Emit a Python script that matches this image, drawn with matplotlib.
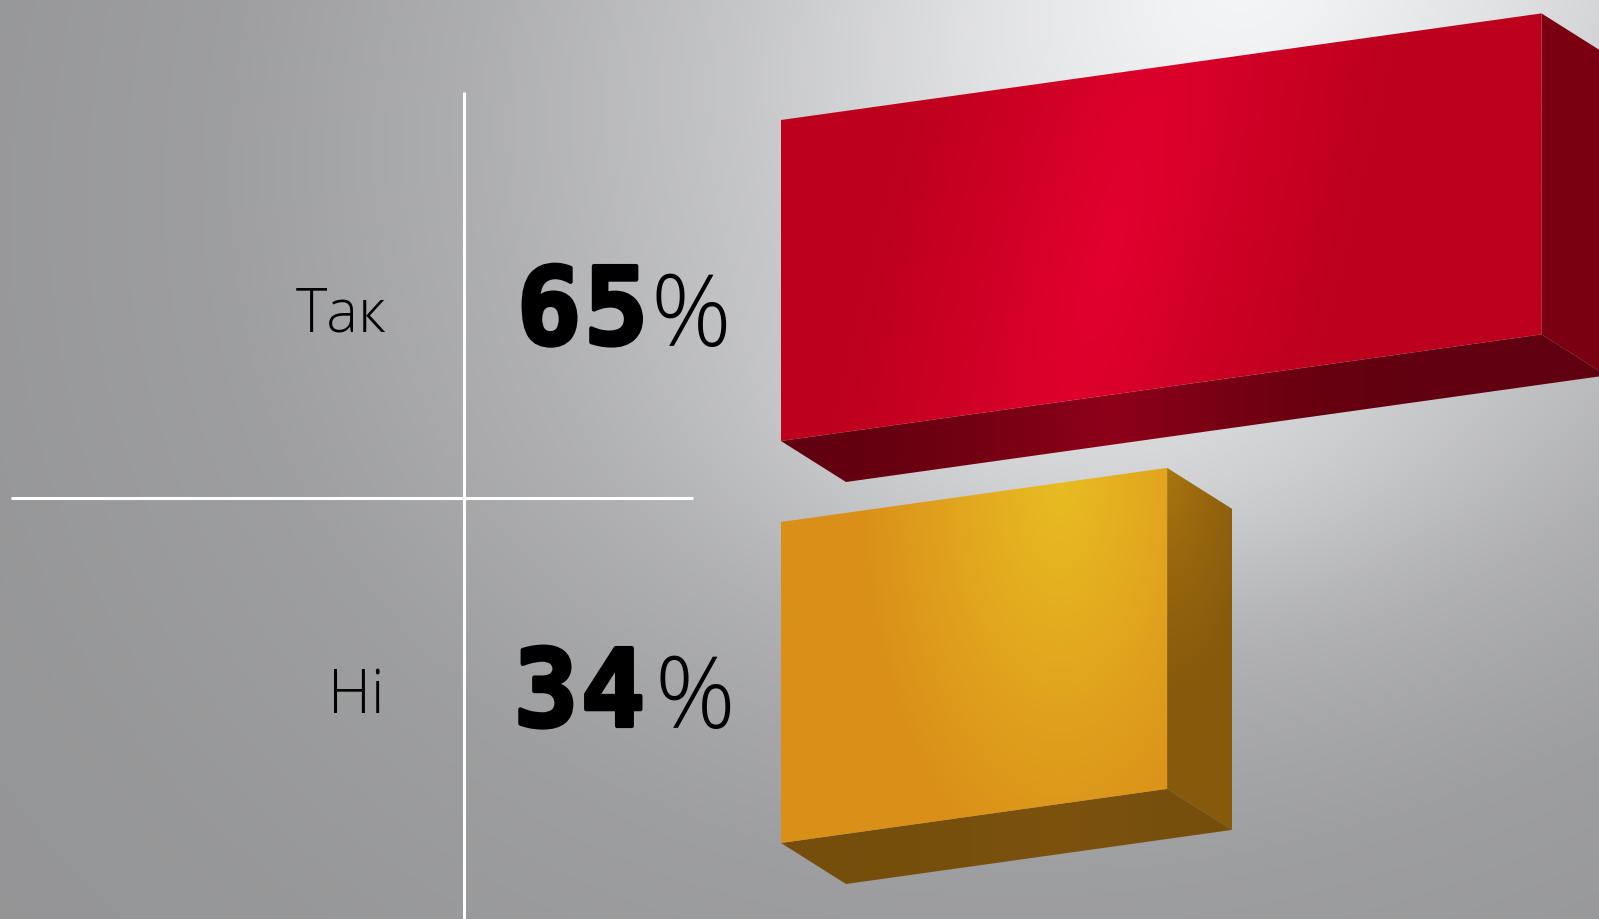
import numpy as np
import matplotlib
matplotlib.use('Agg')
import matplotlib.pyplot as plt
import matplotlib.patheffects as pe
from matplotlib.colors import LinearSegmentedColormap
from matplotlib.patches import Polygon

W, H = 1599, 919

categories = ['Так', 'Hi']
values = [65, 34]
# length of the drawn bars (second one is a bit shorter than its label)
bar_lengths = [65, 33]

# layout in pixels
PX_PER_PCT = 11.70
X0 = 781
bar_bottoms = [441, 843]
BAR_H = 321
SLOPE = 1.64  # pixels up per percent
DEPTH_X = 65 / PX_PER_PCT
DEPTH_Y = 41


def to_px(v):
    return X0 + v * PX_PER_PCT


def background():
    yy, xx = np.mgrid[0:H, 0:W]
    d = np.sqrt(((xx - 1240 + 0.25 * yy) / 1000.0) ** 2 + ((yy + 20) / 900.0) ** 2)
    v = np.interp(d, [0, 0.08, 0.25, 0.5, 0.75, 1.0, 1.3, 1.8], [245, 241, 226, 197, 174, 158, 150, 147])
    # glow between the two bars
    v = v + 20 * np.exp(-(((xx - 1100) / 350.0) ** 2 + ((yy - 450) / 160.0) ** 2))
    v = np.clip(v, 0, 248) / 255.0
    return np.dstack([v, v * 1.003, v * 1.012]).clip(0, 1)


def radial_face(ax, pts, center, radii, colors, stops, tilt=0.0):
    # fills a polygon with a radial gradient, center and radii in pixels
    xs = [p[0] for p in pts]
    ys = [p[1] for p in pts]
    x0, x1, y0, y1 = min(xs), max(xs), min(ys), max(ys)
    px0, px1 = to_px(x0), to_px(x1)
    gy, gx = np.mgrid[y0:y1:300j, px0:px1:400j]
    d = np.sqrt(((gx - center[0] + tilt * (gy - center[1])) / radii[0]) ** 2 + ((gy - center[1]) / radii[1]) ** 2)
    cmap = LinearSegmentedColormap.from_list('f', list(zip(stops, colors)))
    im = ax.imshow(np.clip(d, 0, 1), extent=[x0, x1, y0, y1], origin='lower', cmap=cmap,
                   vmin=0, vmax=1, aspect='auto', zorder=2, interpolation='bilinear')
    clip = Polygon(pts, closed=True, transform=ax.transData)
    im.set_clip_path(clip)


fig = plt.figure(figsize=(W / 100, H / 100), dpi=100)

# background, rules and labels in pixel coordinates
bg = fig.add_axes([0, 0, 1, 1])
bg.imshow(background(), extent=[0, W, H, 0], aspect='auto')
bg.set_xlim(0, W)
bg.set_ylim(H, 0)
bg.axis('off')
bg.plot([464, 464], [92, H], color='white', lw=2.2, solid_capstyle='butt')
bg.plot([11, 693], [498, 498], color='white', lw=2.2, solid_capstyle='butt')

label_base = [331, 713]
label_right = [386, 384]
num_base = [344, 726]
num_first = [549, 546]
pct_left = [650, 654]
for i in range(len(categories)):
    bg.text(label_right[i], label_base[i], categories[i], family='Open Sans', weight='light',
            fontsize=43, ha='right', va='baseline', color='black')
    for k, digit in enumerate(str(values[i])):
        bg.text(num_first[i] + 67 * k, num_base[i], digit, family='DejaVu Sans Mono',
                weight='bold', fontsize=77, ha='center', va='baseline', color='black',
                path_effects=[pe.withStroke(linewidth=3, foreground='black')])
    bg.text(pct_left[i], num_base[i] + 2, '%', family='Open Sans', weight='light',
            fontsize=72, ha='left', va='baseline', color='black')

# bars, x axis in percent
ax = fig.add_axes([0, 0, 1, 1], facecolor='none')
ax.axis('off')

front_colors = [['#e3002f', '#d00026', '#bc001d', '#bc001d'], ['#e8bc22', '#e2a81f', '#da9018', '#da9018']]
front_stops = [0, 0.45, 1, 1]
centers = [(1110, 250), (1060, 480)]
radii = [(240, 900), (200, 400)]
tilts = [0.25, 0.0]
bottom_colors = [['#8e0019', '#7a0014', '#660010', '#600010'], ['#7c520d', '#78500d', '#764e0c', '#764e0c']]
side_colors = ['#7a0011', '#875a0c']

for i in range(len(bar_lengths)):
    L = bar_lengths[i]
    b = bar_bottoms[i]
    rise = SLOPE * L
    bl = (0, b)
    br = (L, b - rise)
    tr = (L, b - rise - BAR_H)
    tl = (0, b - BAR_H)
    back_bl = (DEPTH_X, b + DEPTH_Y)
    back_br = (L + DEPTH_X, b - rise + DEPTH_Y)
    back_tr = (L + DEPTH_X, b - rise - BAR_H + DEPTH_Y)

    # right side
    if i == 1:
        radial_face(ax, [tr, back_tr, back_br, br], (1167, 468), (90, 220),
                    ['#a8760f', '#97660e', '#875a0c', '#875a0c'], front_stops)
    else:
        ax.add_patch(Polygon([tr, back_tr, back_br, br], closed=True, fc=side_colors[i], ec='none', zorder=2))
    # bottom
    radial_face(ax, [bl, br, back_br, back_bl], centers[i], (330, 1e4) if i == 0 else (300, 1e4),
                bottom_colors[i], [0, 0.3, 0.65, 1])
    # front
    radial_face(ax, [bl, br, tr, tl], centers[i], radii[i], front_colors[i], front_stops, tilt=tilts[i])

ax.set_xlim(-X0 / PX_PER_PCT, (W - X0) / PX_PER_PCT)
ax.set_ylim(H, 0)

fig.savefig('out.png', dpi=100)
